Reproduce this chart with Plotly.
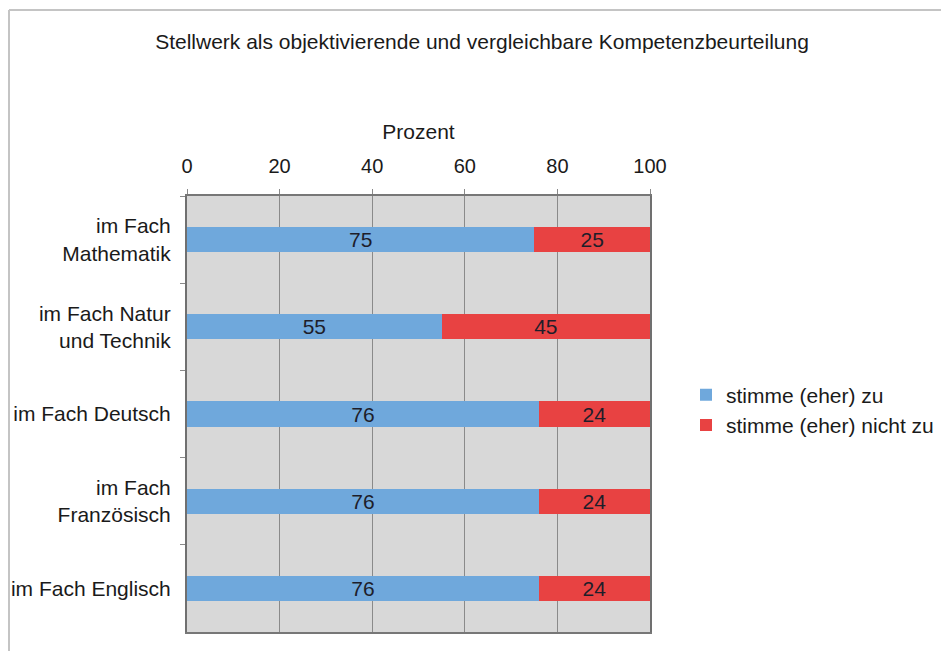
import plotly.graph_objects as go

categories = ["im Fach<br>Mathematik", "im Fach Natur<br>und Technik", "im Fach Deutsch",
              "im Fach<br>Französisch", "im Fach Englisch"]
agree = [75, 55, 76, 76, 76]
disagree = [25, 45, 24, 24, 24]
series_names = ["stimme (eher) zu", "stimme (eher) nicht zu"]
x_ticks = [0, 20, 40, 60, 80, 100]

FONT = "Liberation Sans, Arial, Helvetica, sans-serif"

fig = go.Figure()
fig.add_trace(go.Bar(
    y=categories, x=agree, orientation="h", name=series_names[0],
    marker=dict(color="#6fa8dc", line=dict(width=0)),
    text=agree, textposition="inside", insidetextanchor="middle",
    constraintext="none",
    textfont=dict(size=21, color="#1e1e2a", family=FONT),
))
fig.add_trace(go.Bar(
    y=categories, x=disagree, orientation="h", name=series_names[1],
    marker=dict(color="#e84242", line=dict(width=0)),
    text=disagree, textposition="inside", insidetextanchor="middle",
    constraintext="none",
    textfont=dict(size=21, color="#1e1e2a", family=FONT),
))

OFF = 8  # page body margin
L, R, T, B = 187 - OFF, 650 - OFF, 196 - OFF, 632 - OFF
W, H = 949 - OFF, 651 - OFF
pw, ph = R - L, B - T

def px(x):
    return (x - OFF - L) / pw

def py(y):
    return (B - (y - OFF)) / ph

fig.update_layout(
    width=W, height=H,
    margin=dict(l=L, r=W - R, t=T, b=H - B, pad=0, autoexpand=False),
    barmode="stack", bargap=0.71,
    uniformtext=dict(mode=False),
    paper_bgcolor="white", plot_bgcolor="#d8d8d8",
    font=dict(family=FONT, size=20, color="#1a1a1a"),
    title=dict(text="Stellwerk als objektivierende und vergleichbare Kompetenzbeurteilung",
               x=px(482), xanchor="center", xref="paper",
               y=1 - (42 - OFF) / H, yanchor="middle",
               font=dict(size=21, color="#1a1a1a")),
    xaxis=dict(side="top", range=[0, 100], tickvals=x_ticks,
               showgrid=True, gridcolor="#8a8a8a", gridwidth=1,
               ticks="outside", ticklen=5, tickcolor="#8a8a8a",
               showline=True, linecolor="#777777", linewidth=1.5, mirror=True,
               ticklabelstandoff=8, automargin=False,
               tickfont=dict(size=20),
               title=dict(text="Prozent", standoff=10, font=dict(size=21)),
               zeroline=False, fixedrange=True),
    yaxis=dict(autorange="reversed", type="category", tickson="boundaries",
               ticks="outside", ticklen=5, tickcolor="#8a8a8a",
               showgrid=False, showline=True, linecolor="#707070", linewidth=2,
               mirror=True, ticklabelstandoff=10, automargin=False,
               tickfont=dict(size=21), fixedrange=True),
    legend=dict(x=px(686), xanchor="left", y=py(410), yanchor="middle",
                font=dict(size=21), bgcolor="rgba(0,0,0,0)",
                traceorder="normal", itemclick=False),
    showlegend=True,
    shapes=[
        dict(type="line", xref="paper", yref="paper", x0=px(9), x1=px(9),
             y0=py(10), y1=py(700), line=dict(color="#c4c4c4", width=2)),
        dict(type="line", xref="paper", yref="paper", x0=px(9), x1=px(1000),
             y0=py(10), y1=py(10), line=dict(color="#c4c4c4", width=2)),
    ],
)

fig.write_html("out.html")
